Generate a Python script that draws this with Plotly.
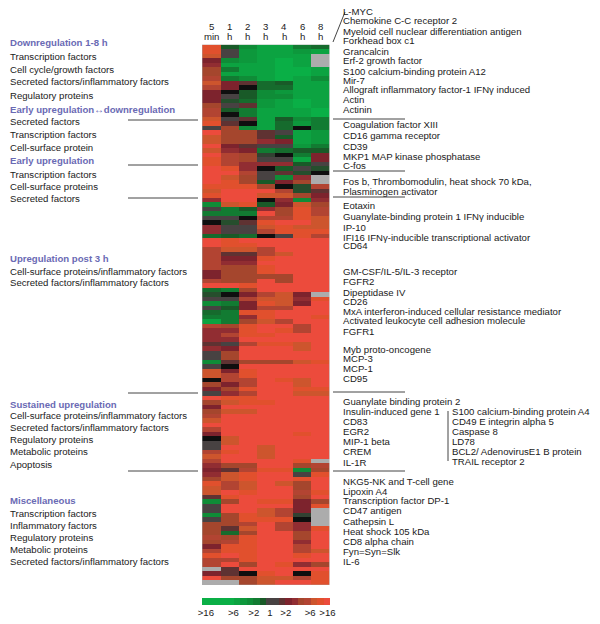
import plotly.graph_objects as go

N = None

# one value per row, -9 (strong down, green) to 9 (strong up, red), None = no data
min5 = [8,8,7,3,4,5,5,6,7,6, 3,3,3,5,6,6,7,8,1,9, 7,7,9,7,9,8,8,9,9,9,
        9,8,7,8,4,-6,1,-5,1,0, 4,4,-4,9,9,6,6,6,6,6, 3,3,6,9,-4,-2,1,-6,1,-4,
        -5,-8,6,4,4,4,2,4,1,1, -6,1,7,7,0,5,3,1,9,5, 3,5,6,7,9,6,3,0,1,1,
        6,7,6,4,3,4,5,8,7,7, 2,-6,1,1,-6,1,5,5,5,6, 5,3,6,8,6,6,N,3,9,N]
h1 = [-3,1,1,-6,-8,-5,-8,-5,3,3, 0,1,-2,1,-3,0,1,2,5,5, 5,5,3,4,6,6,6,8,9,7,
      8,8,9,9,9,7,-5,-5,1,-2, 1,1,-3,8,8,7,2,3,4,5, 5,5,5,9,-5,0,1,-5,-3,-5,
      -5,-5,5,4,6,4,1,3,5,5, 2,0,3,6,6,3,5,4,8,7, 9,7,9,9,9,9,9,7,7,9,
      8,9,9,5,2,7,7,6,6,9, 8,5,9,9,5,5,5,2,-4,5, 6,8,8,9,6,9,2,2,5,N]
h2 = [-6,-7,-7,-7,-8,-8,-8,-6,2,0, -3,-3,-4,2,-5,-5,2,0,-6,5, 5,5,2,3,5,5,4,4,6,5,
      5,8,9,9,9,8,-3,-5,0,2, 1,1,-4,9,8,7,2,3,4,5, 5,5,5,8,5,3,6,3,3,8,
      4,5,8,8,8,9,6,9,9,9, 5,9,8,8,6,6,8,6,8,8, 9,7,9,9,9,9,9,9,9,9,
      9,9,9,5,6,8,8,7,7,8, 9,9,9,9,8,8,6,7,5,8, 8,8,8,8,8,5,9,0,5,5]
h3 = [-8,-8,-8,-8,-8,-8,-8,-8,-4,-4, -6,-6,-7,-7,-8,-8,-8,-8,-8,2, 2,4,1,-5,-1,1,4,0,1,1,
      -3,5,9,7,0,-3,4,9,6,8, 7,6,0,9,9,6,6,8,9,8, 8,5,9,9,9,6,7,8,6,8,
      8,7,9,9,8,9,8,9,9,9, 5,9,9,9,9,9,9,9,9,8, 9,9,9,9,9,9,9,9,9,7,
      7,7,9,9,8,9,9,9,9,9, 9,8,9,7,7,8,9,9,9,9, 9,9,9,9,9,9,9,8,7,7]
h4 = [-8,-8,-8,-9,-9,-9,-9,-9,-3,-4, -7,-6,-8,-8,-8,-8,-3,-4,-4,1, -3,3,1,-4,0,1,4,-3,2,-6,
      3,0,6,7,4,3,5,5,6,9, 8,8,1,9,9,9,7,9,9,9, 9,5,5,9,9,7,7,7,6,9,
      9,6,9,8,9,9,8,9,9,9, 5,9,9,9,8,9,9,9,9,9, 9,9,9,9,9,9,9,9,9,9,
      9,9,9,9,8,9,9,7,9,9, 9,8,9,6,6,8,6,6,9,9, 9,9,9,9,9,8,9,9,7,9]
h6 = [-5,-7,-8,-8,-8,-9,-9,-8,-8,-8, -8,-8,-9,-9,-8,-8,-6,-7,0,-8, -8,-8,-7,-3,-5,-8,-3,1,-2,4,
      5,-2,-2,5,-6,7,8,8,8,9, 7,8,8,9,9,9,9,9,9,9, 9,9,9,9,9,3,4,3,9,9,
      9,9,6,6,9,9,7,7,9,9, 7,9,9,9,7,7,8,7,9,9, 9,9,9,9,9,9,8,9,9,9,
      9,9,8,5,-6,1,8,5,5,6, 5,3,3,3,-1,0,4,4,5,5, 4,6,6,8,9,4,9,0,6,9]
h8 = [-4,-8,N,N,N,-8,-8,-6,-8,-8, -8,-8,-8,-8,-9,-9,-5,-5,-5,-7, -7,-7,-5,-3,3,3,1,-2,0,N,
      N,6,2,3,4,5,6,6,7,7, 7,8,6,9,9,9,9,9,9,9, 9,9,9,9,9,N,8,9,9,9,
      8,9,9,9,9,9,9,9,9,9, 8,9,9,9,9,9,8,7,9,9, 9,9,9,9,9,9,9,9,9,9,
      9,9,N,6,5,8,9,9,9,8, 9,5,8,N,N,N,N,8,9,9, 9,9,7,9,9,5,9,8,8,8]

times = ["5", "1", "2", "3", "4", "6", "8"]
units = ["min", "h", "h", "h", "h", "h", "h"]

legend_values = [-9,-9,-9,-9,-9,-8,-7,-6,-5,-3,1,1,2,3,4,5,6,7,8,9]
legend_ticks = [">16", ">6", ">2", "1", ">2", ">6", ">16"]

left_headers = ["Downregulation 1-8 h", "Early upregulation\u2194downregulation", "Early upregulation",
                "Upregulation post 3 h", "Sustained upregulation", "Miscellaneous"]
left_labels = ["Transcription factors", "Cell cycle/growth factors", "Secreted factors/inflammatory factors",
               "Regulatory proteins", "Secreted factors", "Transcription factors", "Cell-surface protein",
               "Transcription factors", "Cell-surface proteins", "Secreted factors",
               "Cell-surface proteins/inflammatory factors", "Secreted factors/inflammatory factors",
               "Cell-surface proteins/inflammatory factors", "Secreted factors/inflammatory factors",
               "Regulatory proteins", "Metabolic proteins", "Apoptosis",
               "Transcription factors", "Inflammatory factors", "Regulatory proteins", "Metabolic proteins",
               "Secreted factors/inflammatory factors"]
right_labels = ["L-MYC", "Chemokine C-C receptor 2", "Myeloid cell nuclear differentiation antigen",
                "Forkhead box c1", "Grancalcin", "Erf-2 growth factor", "S100 calcium-binding protein A12",
                "Mir-7", "Allograft inflammatory factor-1 IFN\u03b3 induced", "Actin", "Actinin",
                "Coagulation factor XIII", "CD16 gamma receptor", "CD39", "MKP1 MAP kinase phosphatase", "C-fos",
                "Fos b, Thrombomodulin, heat shock 70 kDa,", "Plasminogen activator",
                "Eotaxin", "Guanylate-binding protein 1 IFN\u03b3 inducible", "IP-10",
                "IFI16 IFN\u03b3-inducible transcriptional activator", "CD64",
                "GM-CSF/IL-5/IL-3 receptor", "FGFR2", "Dipeptidase IV", "CD26",
                "MxA interferon-induced cellular resistance mediator",
                "Activated leukocyte cell adhesion molecule", "FGFR1",
                "Myb proto-oncogene", "MCP-3", "MCP-1", "CD95",
                "Guanylate binding protein 2", "Insulin-induced gene 1", "CD83", "EGR2", "MIP-1 beta", "CREM", "IL-1R",
                "NKG5-NK and T-cell gene", "Lipoxin A4", "Transcription factor DP-1", "CD47 antigen", "Cathepsin L",
                "Heat shock 105 kDa", "CD8 alpha chain", "Fyn=Syn=Slk", "IL-6"]
extra_labels = ["S100 calcium-binding protein A4", "CD49 E integrin alpha 5", "Caspase 8", "LD78",
                "BCL2/ AdenovirusE1 B protein", "TRAIL receptor 2"]

# layout positions, page pixels
left_header_y = [43, 109, 160, 258, 404, 500]
left_label_y = [56, 69, 82, 95, 122, 134, 147, 174, 186, 198, 271, 283,
                415, 427, 439, 451, 464, 513, 525, 537, 549, 561]
right_label_y = [11, 21, 31, 41, 51, 61, 71, 80, 90, 99, 109,
                 125, 135, 146, 156, 166, 181, 191, 206, 216, 227, 237, 246,
                 271, 282, 292, 301, 311, 321, 331, 349, 358, 368, 379,
                 401, 411, 421, 431, 441, 451, 462,
                 481, 491, 500, 510, 521, 531, 541, 551, 561]
extra_label_y = [411, 421, 431, 441, 451, 461]
rule_y = [120, 165, 198, 393, 471]
right_rule_y = [119, 171, 197, 392, 471]

W, H = 600, 624
FONT = "Liberation Sans"
TEXT = "#1a1a1a"
colorscale = [[0.0, "rgb(10,175,70)"], [3/18, "rgb(15,140,55)"], [6/18, "rgb(25,90,40)"],
              [8/18, "rgb(50,65,50)"], [9/18, "rgb(15,15,15)"], [10/18, "rgb(72,66,66)"],
              [11/18, "rgb(95,50,50)"], [12/18, "rgb(125,35,45)"], [13/18, "rgb(145,45,50)"],
              [14/18, "rgb(165,70,45)"], [15/18, "rgb(178,68,50)"], [16/18, "rgb(205,85,45)"],
              [17/18, "rgb(225,80,45)"], [1.0, "rgb(236,75,60)"]]


def px(x):
    return x / W


def py(y):
    return 1 - y / H


def label(text, x, y, size=9.6, color=TEXT, bold=False):
    return dict(text=f"<b>{text}</b>" if bold else text, x=px(x), y=py(y), xref="paper", yref="paper",
                xanchor="left", yanchor="middle", showarrow=False, font=dict(family=FONT, size=size, color=color))


def time_label(text, column, y):
    return dict(text=text, x=column, y=py(y), xref="x", yref="paper", xanchor="center", yanchor="middle",
                showarrow=False, font=dict(family=FONT, size=9.6, color=TEXT))


def rule(x0, y0, x1, y1, color="#444444"):
    return dict(type="line", xref="paper", yref="paper", x0=px(x0), y0=py(y0), x1=px(x1), y1=py(y1),
                line=dict(color=color, width=1))


fig = go.Figure()
fig.add_trace(go.Heatmap(z=[list(r) for r in zip(min5, h1, h2, h3, h4, h6, h8)],
                         colorscale=colorscale, zmin=-9, zmax=9, showscale=False, hoverongaps=False))
fig.add_trace(go.Heatmap(z=[legend_values], xaxis="x2", yaxis="y2",
                         colorscale=colorscale, zmin=-9, zmax=9, showscale=False))

annotations = []
annotations += [label(t, 8, y, color="#6a6ab4", bold=True) for t, y in zip(left_headers, left_header_y)]
annotations += [label(t, 8, y) for t, y in zip(left_labels, left_label_y)]
annotations += [label(t, 341, y) for t, y in zip(right_labels, right_label_y)]
annotations += [label(t, 450, y) for t, y in zip(extra_labels, extra_label_y)]
annotations += [time_label(t, i, 27) for i, t in enumerate(times)]
annotations += [time_label(u, i, 36) for i, u in enumerate(units)]

shapes = [rule(128, y, 198, y) for y in rule_y]
shapes += [rule(333, y, 405, y) for y in right_rule_y]
shapes += [rule(333, 42, 345, 12), rule(448, 411, 448, 461)]

fig.update_layout(
    width=W, height=H, margin=dict(l=0, r=0, t=0, b=0),
    paper_bgcolor="white", plot_bgcolor="rgb(172,172,172)",
    annotations=annotations, shapes=shapes, showlegend=False,
    xaxis=dict(domain=[px(202), px(329.5)], showticklabels=False, ticks="", showgrid=False, zeroline=False),
    yaxis=dict(domain=[py(585), py(44.7)], autorange="reversed", visible=False, showgrid=False),
    xaxis2=dict(domain=[px(202), px(330)], anchor="y2", ticks="", showgrid=False,
                tickmode="array", tickvals=[0.1, 4.4, 7.6, 10.1, 12.6, 16.4, 19.1], ticktext=legend_ticks,
                tickfont=dict(family=FONT, size=9.6, color=TEXT), tickangle=0, automargin=False, zeroline=False),
    yaxis2=dict(domain=[py(605), py(598)], anchor="x2", visible=False, showgrid=False),
)

# drop the page's default body margin so the figure fills the window
fig.write_html("out.html", config=dict(displayModeBar=False),
               post_script="document.body.style.margin = '0';")
